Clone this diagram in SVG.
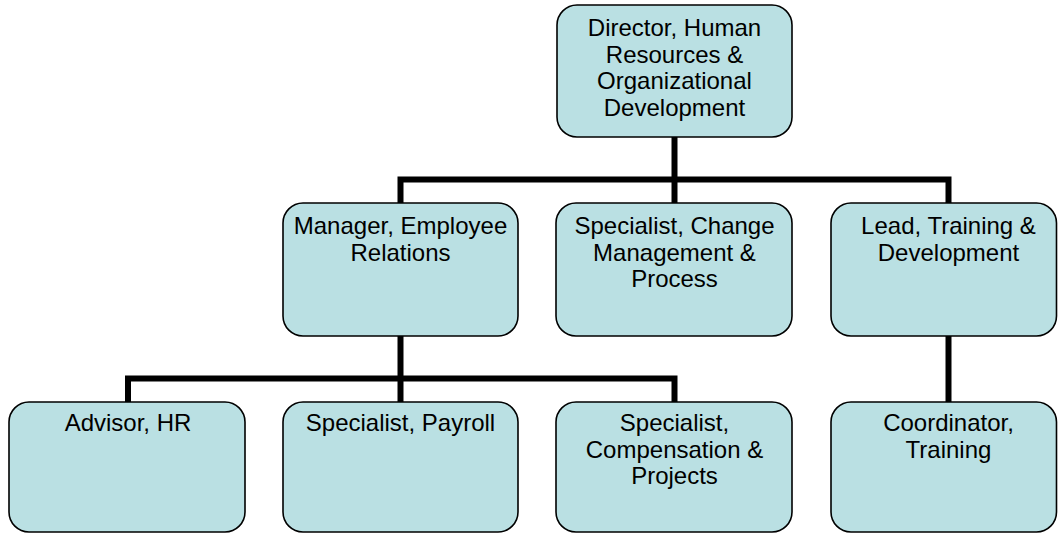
<svg xmlns="http://www.w3.org/2000/svg" width="1058" height="533" viewBox="0 0 1058 533">
<style>
.box{fill:#BAE0E3;stroke:#000;stroke-width:1.6}
.lbl{font-family:"Liberation Sans",Arial,sans-serif;font-size:24px;fill:#000;text-anchor:middle}
.conn{fill:none;stroke:#000;stroke-width:6;stroke-linejoin:miter;stroke-linecap:butt}
</style>
<rect width="1058" height="533" fill="#fff"/>
<g id="connectors">
<path class="conn" d="M674.5,137 V203"/>
<path class="conn" d="M400.5,203 V179.5 H948.5 V203"/>
<path class="conn" d="M400.5,336 V402"/>
<path class="conn" d="M128,402 V378.5 H674.5 V402"/>
<path class="conn" d="M948.5,336 V402"/>
</g>
<g id="director">
<rect class="box" x="557" y="5" width="235" height="132" rx="20"/>
<text class="lbl"><tspan x="674.5" y="36">Director, Human</tspan><tspan x="674.5" y="62.5">Resources &amp;</tspan><tspan x="674.5" y="89">Organizational</tspan><tspan x="674.5" y="115.5">Development</tspan></text>
</g>
<g id="manager">
<rect class="box" x="283" y="203" width="235" height="133" rx="20"/>
<text class="lbl"><tspan x="400.5" y="234">Manager, Employee</tspan><tspan x="400.5" y="260.5">Relations</tspan></text>
</g>
<g id="change">
<rect class="box" x="556" y="203" width="236" height="133" rx="20"/>
<text class="lbl"><tspan x="674.5" y="234">Specialist, Change</tspan><tspan x="674.5" y="260.5">Management &amp;</tspan><tspan x="674.5" y="287">Process</tspan></text>
</g>
<g id="lead">
<rect class="box" x="831" y="203" width="225.5" height="133" rx="20"/>
<text class="lbl"><tspan x="948.5" y="234">Lead, Training &amp;</tspan><tspan x="948.5" y="260.5">Development</tspan></text>
</g>
<g id="advisor">
<rect class="box" x="9" y="402" width="236" height="130" rx="20"/>
<text class="lbl"><tspan x="128" y="431">Advisor, HR</tspan></text>
</g>
<g id="payroll">
<rect class="box" x="283" y="402" width="235" height="130" rx="20"/>
<text class="lbl"><tspan x="400.5" y="431">Specialist, Payroll</tspan></text>
</g>
<g id="compensation">
<rect class="box" x="556" y="402" width="236" height="130" rx="20"/>
<text class="lbl"><tspan x="674.5" y="431">Specialist,</tspan><tspan x="674.5" y="457.5">Compensation &amp;</tspan><tspan x="674.5" y="484">Projects</tspan></text>
</g>
<g id="coordinator">
<rect class="box" x="831" y="402" width="225.5" height="130" rx="20"/>
<text class="lbl"><tspan x="948.5" y="431">Coordinator,</tspan><tspan x="948.5" y="457.5">Training</tspan></text>
</g>
</svg>
